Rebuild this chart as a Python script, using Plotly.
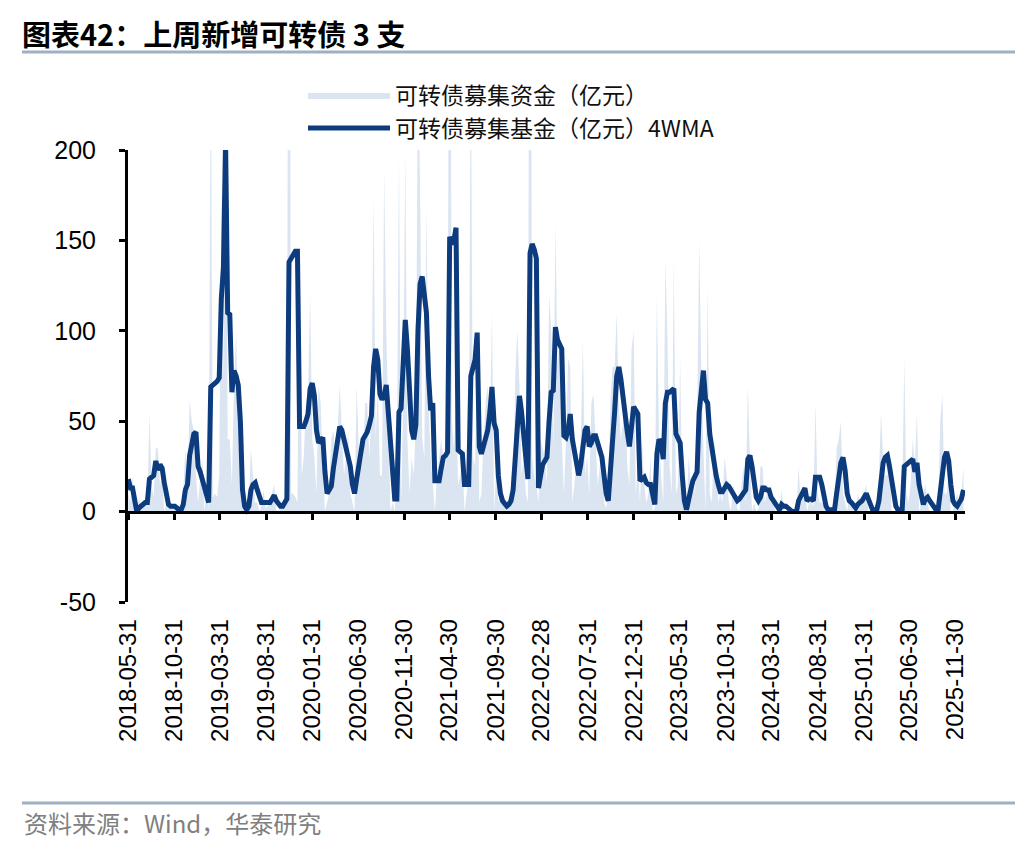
import pandas as pd
import plotly.graph_objects as go

# weekly convertible-bond issuance (100m CNY), one list per year, weeks start 2018-06-01
raw_2018 = [10, 5, 20, 0, 0, 8, 4, 3, 5, 3, 55, 15, 8, 35, 35, 15, 20, 0, 5, 2, 5, 3, 2, 0, 0, 3,
            12, 35, 10, 62, 50]
raw_2019 = [45, 20, 5, 18, 30, 0, 12, 2, 260, 8, 10, 8, 20, 180, 75, 300, 40, 40, 15, 70, 100, 45,
            10, 5, 2, 0, 5, 35, 20, 5, 5, 0, 3, 12, 2, 3, 5, 10, 15, 0, 0, 2, 5, 8, 12, 530, 10, 10,
            8, 5, 150, 20]
raw_2020 = [30, 60, 65, 120, 40, 30, 10, 70, 60, 25, 0, 5, 10, 40, 45, 30, 45, 70, 40, 20, 30, 45,
            10, 5, 0, 70, 35, 25, 30, 60, 60, 30, 55, 175, 40, 70, 20, 20, 190, 100, 40, 0, 5, 0,
            20, 200, 5, 60, 200, 40, 10, 30]
raw_2021 = [20, 50, 250, 180, 40, 30, 170, 60, 30, 15, 0, 20, 30, 40, 30, 25, 40, 480, 50, 35, 60,
            15, 20, 30, 0, 10, 20, 260, 30, 25, 90, 5, 10, 40, 60, 70, 45, 110, 0, 25, 5, 10, 5, 2,
            0, 8, 12, 5, 75, 100, 70, 20, 30]
raw_2022 = [10, 5, 530, 30, 20, 15, 5, 40, 35, 30, 15, 120, 100, 35, 160, 80, 95, 40, 10, 40, 85,
            80, 5, 15, 30, 25, 40, 95, 20, 30, 10, 60, 65, 35, 15, 25, 35, 5, 2, 10, 60, 80, 80,
            110, 60, 40, 50, 60, 25, 15, 90, 100]
raw_2023 = [10, 25, 5, 40, 15, 5, 10, 30, 0, 2, 120, 40, 20, 5, 140, 95, 25, 10, 140, 10, 15, 85,
            5, 0, 0, 30, 15, 20, 10, 45, 150, 80, 35, 0, 125, 10, 5, 40, 25, 5, 10, 5, 30, 20, 5, 0,
            15, 10, 2, 0, 15, 25]
raw_2024 = [5, 70, 30, 0, 5, 0, 2, 25, 25, 5, 10, 10, 5, 5, 0, 0, 0, 12, 0, 0, 0, 0, 0, 0, 0, 25,
            5, 8, 15, 0, 5, 5, 3, 60, 10, 5, 5, 5, 0, 0, 0, 0, 2, 35, 40, 50, 10, 5, 0, 10, 5, 0]
raw_2025 = [0, 10, 5, 5, 10, 15, 0, 0, 0, 0, 5, 20, 55, 30, 20, 20, 30, 0, 0, 0, 0, 0, 5, 85, 10,
            5, 15, 40, 25, 55, 0, 5, 10, 15, 5, 0, 0, 0, 0, 0, 50, 65, 10, 10, 20, 0, 0, 5, 10, 5,
            10, 25]

# 4-week moving average
ma_2018 = [18, 13, 13, 6, 0, 2, 3, 4, 5, 5, 18, 19, 20, 28, 23, 26, 24, 16, 10, 4, 3, 3, 3, 2, 1,
           1, 4, 12, 15, 31, 38]
ma_2019 = [43, 44, 25, 22, 18, 13, 9, 5, 69, 70, 71, 72, 74, 118, 135, 205, 110, 109, 66, 78, 75,
           70, 50, 12, 3, 1, 3, 12, 15, 16, 12, 7, 5, 5, 5, 5, 5, 7, 9, 6, 4, 3, 3, 5, 7, 138, 140,
           142, 144, 144, 47, 47]
ma_2020 = [47, 50, 54, 68, 71, 64, 45, 38, 40, 41, 22, 10, 12, 14, 24, 33, 42, 47, 45, 40, 36, 33,
           25, 15, 10, 18, 27, 33, 40, 42, 44, 48, 53, 80, 90, 84, 65, 62, 64, 70, 55, 42, 20, 7,
           7, 55, 57, 80, 106, 90, 72, 45]
ma_2021 = [40, 48, 100, 126, 130, 120, 110, 75, 56, 60, 17, 17, 17, 24, 30, 31, 33, 152, 148, 150,
           157, 34, 33, 32, 15, 15, 15, 75, 80, 84, 99, 36, 32, 36, 40, 45, 55, 69, 49, 45, 20, 10,
           6, 4, 3, 4, 6, 12, 29, 48, 64, 55, 45]
ma_2022 = [30, 18, 143, 148, 145, 140, 13, 20, 26, 28, 30, 50, 66, 67, 102, 95, 93, 90, 42, 41, 45,
           54, 40, 32, 25, 20, 26, 38, 45, 47, 36, 38, 42, 42, 38, 34, 30, 20, 10, 6, 20, 36, 55,
           75, 80, 73, 62, 53, 44, 36, 45, 58]
ma_2023 = [56, 54, 17, 18, 19, 16, 15, 15, 8, 4, 32, 40, 38, 29, 60, 66, 66, 67, 68, 43, 40, 38,
           20, 6, 1, 8, 12, 17, 19, 22, 55, 70, 78, 62, 60, 43, 34, 27, 20, 15, 11, 11, 13, 15, 14,
           12, 10, 8, 6, 7, 9, 10]
ma_2024 = [12, 29, 31, 25, 15, 8, 6, 8, 13, 13, 12, 12, 8, 6, 5, 2, 1, 4, 3, 3, 2, 1, 0, 0, 0, 6,
           8, 10, 13, 6, 7, 7, 6, 19, 19, 19, 15, 7, 3, 1, 1, 1, 1, 10, 20, 27, 30, 23, 10, 6, 5, 3]
ma_2025 = [2, 4, 5, 6, 8, 10, 7, 3, 1, 1, 1, 6, 18, 27, 30, 31, 25, 18, 8, 3, 1, 1, 1, 25, 26, 27,
           28, 29, 22, 27, 15, 8, 4, 7, 8, 6, 4, 2, 1, 1, 12, 25, 30, 33, 28, 15, 6, 4, 3, 5, 7, 12]

tick_dates = ["2018-05-31", "2018-10-31", "2019-03-31", "2019-08-31", "2020-01-31",
              "2020-06-30", "2020-11-30", "2021-04-30", "2021-09-30", "2022-02-28",
              "2022-07-31", "2022-12-31", "2023-05-31", "2023-10-31", "2024-03-31",
              "2024-08-31", "2025-01-31", "2025-06-30", "2025-11-30"]
y_ticks = [-50, 0, 50, 100, 150, 200]
y_labels = ["-50", "0", "50", "100", "150", "200"]

raw = raw_2018 + raw_2019 + raw_2020 + raw_2021 + raw_2022 + raw_2023 + raw_2024 + raw_2025
ma = ma_2018 + ma_2019 + ma_2020 + ma_2021 + ma_2022 + ma_2023 + ma_2024 + ma_2025
weeks = pd.date_range("2018-06-01", periods=len(ma), freq="7D")

# page body adds an 8px margin, so the figure is drawn 8px smaller and everything is shifted
OFF = 8
W, H = 1036 - 2 * OFF, 852 - 2 * OFF
# plot area in page pixels: left 128, right 965, top 150, bottom 602
L, R, T, B = 128 - OFF, 965 - OFF, 150 - OFF, 602 - OFF


def px(x):
    return (x - OFF - L) / (R - L)


def py(y):
    return (B - (y - OFF)) / (B - T)


fig = go.Figure()
fig.add_trace(go.Scatter(
    x=weeks, y=raw, mode="lines", fill="tozeroy",
    line=dict(width=0, color="#dbe5f1"), fillcolor="#dbe5f1",
    name="可转债募集资金（亿元）", legend="legend",
))
fig.add_trace(go.Scatter(
    x=weeks, y=ma, mode="lines",
    line=dict(width=5, color="#0c3b7e"),
    name="可转债募集基金（亿元）4WMA", legend="legend2",
))

legend_font = dict(family="Noto Sans CJK SC", size=23, color="#111111")
fig.update_layout(
    width=W, height=H,
    margin=dict(l=L, r=W - R, t=T, b=H - B),
    paper_bgcolor="white", plot_bgcolor="white",
    font=dict(family="Liberation Sans, Arial", color="black"),
    showlegend=True,
    legend=dict(x=px(303), y=py(95), xanchor="left", yanchor="middle",
                font=legend_font, itemwidth=82, bgcolor="rgba(0,0,0,0)"),
    legend2=dict(x=px(303), y=py(128), xanchor="left", yanchor="middle",
                 font=legend_font, itemwidth=82, bgcolor="rgba(0,0,0,0)"),
    xaxis=dict(
        type="date", range=["2018-05-31", "2025-12-31"],
        anchor="free", position=0.2,
        showline=True, linecolor="black", linewidth=3,
        ticks="outside", ticklen=6, tickwidth=3, tickcolor="black",
        tickvals=tick_dates, ticktext=tick_dates, tickangle=-90,
        tickfont=dict(size=24), ticklabelstandoff=90,
        showgrid=False, zeroline=False,
    ),
    yaxis=dict(
        range=[-50, 200], tickvals=y_ticks, ticktext=y_labels,
        showline=True, linecolor="black", linewidth=3,
        ticks="outside", ticklen=6, tickwidth=3, tickcolor="black",
        tickfont=dict(size=25), ticklabelstandoff=18,
        showgrid=False, zeroline=False,
    ),
)

# header / footer rules
for yy in (52, 803):
    fig.add_shape(type="line", xref="paper", yref="paper",
                  x0=px(22), x1=px(1015), y0=py(yy), y1=py(yy),
                  line=dict(color="#9fb0c4", width=3))

fig.add_annotation(
    text="<b>图表42：上周新增可转债 3 支</b>", xref="paper", yref="paper",
    x=px(20), y=py(33), xanchor="left", yanchor="middle", showarrow=False,
    font=dict(family="Noto Sans CJK SC", size=29, color="black"),
)
fig.add_annotation(
    text="资料来源：Wind，华泰研究", xref="paper", yref="paper",
    x=px(22), y=py(842), xanchor="left", yanchor="bottom", showarrow=False,
    font=dict(family="Noto Sans CJK SC", size=24, color="#808080"),
)

fig.write_html("out.html")
